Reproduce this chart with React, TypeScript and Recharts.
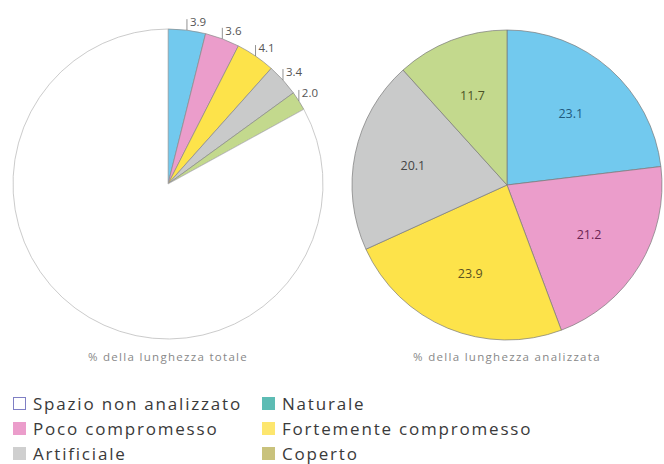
import { PieChart, Pie, Cell } from "recharts";

const categories = [
  "Naturale",
  "Poco compromesso",
  "Fortemente compromesso",
  "Artificiale",
  "Coperto",
  "Spazio non analizzato",
];
const totalValues = [3.9, 3.6, 4.1, 3.4, 2.0, 83.0];
const analyzedValues = [23.1, 21.2, 23.9, 20.1, 11.7];

const sliceColors = ["#72c9ee", "#eb9dcb", "#fde34a", "#c9caca", "#c3d98d", "#ffffff"];
const labelColors = ["#1f5a7e", "#6b2552", "#5a5222", "#454545", "#4b5226"];

const legendItems = [
  "Spazio non analizzato",
  "Naturale",
  "Poco compromesso",
  "Fortemente compromesso",
  "Artificiale",
  "Coperto",
];
const legendColors = ["#ffffff", "#5dbcb4", "#eb9dcb", "#fde66e", "#cfcfcf", "#c9c27c"];

const captions = ["% della lunghezza totale", "% della lunghezza analizzata"];

const RAD = Math.PI / 180;
const FONT = "'Open Sans', 'DejaVu Sans', sans-serif";

const totalData = categories.map((name, i) => ({ name, value: totalValues[i] }));
const analyzedData = analyzedValues.map((value, i) => ({ name: categories[i], value }));

function OuterLabel(props: any) {
  const { cx, cy, midAngle, outerRadius, value, index } = props;
  if (index >= 5) return null;
  const x = cx + outerRadius * Math.cos(-midAngle * RAD);
  const y = cy + outerRadius * Math.sin(-midAngle * RAD);
  return (
    <g>
      <line x1={x} y1={y} x2={x} y2={y - 11} stroke="#777" strokeWidth={0.8} />
      <text x={x + 3} y={y - 4} fontSize={11.5} fill="#555" fontFamily={FONT}>
        {value.toFixed(1)}
      </text>
    </g>
  );
}

function InnerLabel(props: any) {
  const { cx, cy, midAngle, outerRadius, value, index } = props;
  const r = outerRadius * 0.62;
  const x = cx + r * Math.cos(-midAngle * RAD);
  const y = cy + r * Math.sin(-midAngle * RAD);
  return (
    <text
      x={x}
      y={y}
      textAnchor="middle"
      dominantBaseline="central"
      fontSize={12.5}
      fill={labelColors[index]}
      fontFamily={FONT}
    >
      {value.toFixed(1)}
    </text>
  );
}

export default function App() {
  return (
    <div
      style={{
        position: "absolute",
        left: 0,
        top: 0,
        width: 664,
        height: 464,
        background: "#fff",
        fontFamily: FONT,
      }}
    >
      <PieChart width={664} height={380} margin={{ top: 0, right: 0, bottom: 0, left: 0 }}>
        <Pie
          data={totalData}
          dataKey="value"
          cx={168}
          cy={184}
          outerRadius={155}
          startAngle={90}
          endAngle={-270}
          stroke="#8a8a8a"
          strokeWidth={0.7}
          label={OuterLabel}
          labelLine={false}
          isAnimationActive={false}
        >
          {totalData.map((d, i) => (
            <Cell key={d.name} fill={sliceColors[i]} stroke={i === 5 ? "#b5b5b5" : "#8a8a8a"} />
          ))}
        </Pie>
        <Pie
          data={analyzedData}
          dataKey="value"
          cx={507}
          cy={185}
          outerRadius={155}
          startAngle={90}
          endAngle={-270}
          stroke="#7a7a7a"
          strokeWidth={0.7}
          label={InnerLabel}
          labelLine={false}
          isAnimationActive={false}
        >
          {analyzedData.map((d, i) => (
            <Cell key={d.name} fill={sliceColors[i]} />
          ))}
        </Pie>
        <text x={168} y={361} textAnchor="middle" fontSize={11.5} fill="#888" letterSpacing={1.3} fontFamily={FONT}>
          {captions[0]}
        </text>
        <text x={507} y={361} textAnchor="middle" fontSize={11.5} fill="#888" letterSpacing={1.3} fontFamily={FONT}>
          {captions[1]}
        </text>
      </PieChart>
      {legendItems.map((item, i) => {
        const col = i % 2;
        const row = Math.floor(i / 2);
        return (
          <div
            key={item}
            style={{
              position: "absolute",
              left: col === 0 ? 13 : 262,
              top: 392 + row * 25,
              height: 22,
              display: "flex",
              alignItems: "center",
              whiteSpace: "nowrap",
            }}
          >
            <span
              style={{
                display: "inline-block",
                width: 13,
                height: 13,
                boxSizing: "border-box",
                background: legendColors[i],
                border: i === 0 ? "1px solid #7f7fc4" : "none",
                marginRight: 7,
              }}
            />
            <span style={{ fontSize: 17, color: "#3a3a3a", letterSpacing: 1.8 }}>{item}</span>
          </div>
        );
      })}
    </div>
  );
}
